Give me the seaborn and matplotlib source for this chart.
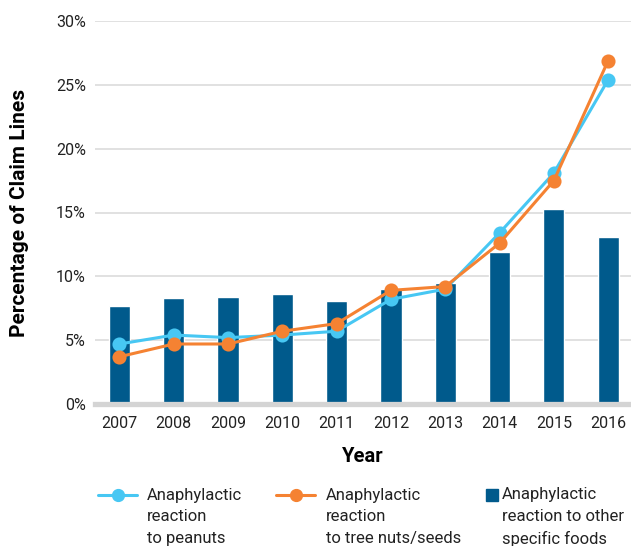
# import the libraries
import pandas as pd
import seaborn as sns
import matplotlib.pyplot as plt
from matplotlib.lines import Line2D

# data (percent of claim lines)
years = ["2007", "2008", "2009", "2010", "2011", "2012", "2013", "2014", "2015", "2016"]
other_foods = [7.7, 8.3, 8.4, 8.6, 8.1, 9.0, 9.5, 11.9, 15.3, 13.1]
peanuts = [4.7, 5.4, 5.2, 5.4, 5.7, 8.2, 9.0, 13.4, 18.1, 25.4]
tree_nuts = [3.7, 4.7, 4.7, 5.7, 6.3, 8.9, 9.2, 12.6, 17.5, 26.9]
y_ticks = [0, 5, 10, 15, 20, 25, 30]

label_peanuts = "Anaphylactic\nreaction\nto peanuts"
label_tree = "Anaphylactic\nreaction\nto tree nuts/seeds"
label_other = "Anaphylactic\nreaction to other\nspecific foods"

dark_blue = "#005a8c"
light_blue = "#47c7f3"
orange = "#f58232"
grid_grey = "#d9d9d9"
text_col = "#222222"

df = pd.DataFrame({"year": years, "other": other_foods,
                   "peanuts": peanuts, "tree": tree_nuts})

sns.set_theme(style="white")
plt.rcParams["font.family"] = ["Roboto", "DejaVu Sans"]

fig = plt.figure(figsize=(6.31, 5.46), dpi=100)
ax = fig.add_axes([95 / 631, 142 / 546, 536 / 631, 383 / 546])

# bars for other foods
sns.barplot(data=df, x="year", y="other", color=dark_blue, width=0.39,
            saturation=1, ax=ax)

# lines for peanuts and tree nuts
sns.pointplot(data=df, x="year", y="peanuts", color=light_blue, markers="o",
              markersize=8.5, linewidth=2.2, errorbar=None, ax=ax)
sns.pointplot(data=df, x="year", y="tree", color=orange, markers="o",
              markersize=8.5, linewidth=2.2, errorbar=None, ax=ax)

for ln in ax.lines:
    ln.set_zorder(4)

# axes styling
ax.set_ylim(0, 30)
ax.set_xlim(-0.45, 9.42)
ax.set_yticks(y_ticks)
ax.set_yticklabels([f"{v}%" for v in y_ticks])
ax.yaxis.grid(True, color=grid_grey, linewidth=1.1)
ax.set_axisbelow(True)
for side in ["left", "top", "right"]:
    ax.spines[side].set_visible(False)
ax.spines["bottom"].set_color("#d4d4d4")
ax.spines["bottom"].set_linewidth(3.8)
ax.tick_params(axis="both", length=0, labelsize=11.5, labelcolor=text_col)
ax.tick_params(axis="y", pad=6.5)
ax.tick_params(axis="x", pad=8.5)

ax.set_xlabel("Year", fontsize=14.5, fontweight="bold", color="black", labelpad=12)
ax.set_ylabel("Percentage of Claim Lines", fontsize=15, fontweight="bold",
              color="black")
ax.yaxis.set_label_coords(-0.124, 0.5)

# legend entries, one per column
fs = 12
common = dict(loc="lower left", frameon=False, fontsize=fs, borderpad=0,
              borderaxespad=0, labelcolor=text_col, handleheight=9.7)
h1 = Line2D([], [], color=light_blue, marker="o", markersize=8.5, linewidth=2.2)
h2 = Line2D([], [], color=orange, marker="o", markersize=8.5, linewidth=2.2)
h3 = Line2D([], [], color=dark_blue, marker="s", linestyle="none", markersize=8)

leg_y = -0.054
legs = [
    fig.legend(handles=[h1], labels=[label_peanuts], bbox_to_anchor=(98 / 631, leg_y),
               handlelength=2.34, handletextpad=0.6, **common),
    fig.legend(handles=[h2], labels=[label_tree], bbox_to_anchor=(276 / 631, leg_y),
               handlelength=2.34, handletextpad=0.65, **common),
    fig.legend(handles=[h3], labels=[label_other], bbox_to_anchor=(486 / 631, leg_y),
               handlelength=0.66, handletextpad=0.3, **common),
]
for leg in legs:
    for t in leg.get_texts():
        t.set_linespacing(1.55)

fig.savefig("out.png", dpi=100)
